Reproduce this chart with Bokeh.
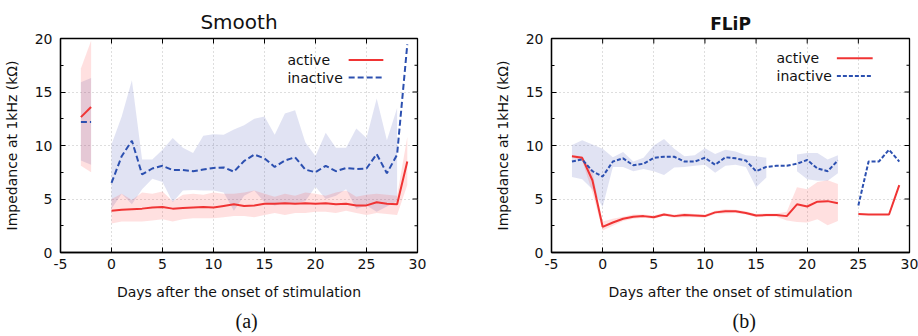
import numpy as np
from bokeh.plotting import figure
from bokeh.layouts import row
from bokeh.models import FixedTicker, Range1d, Title
from bokeh.embed import file_html
from bokeh.resources import INLINE
from bokeh.core.properties import value

NA = float("nan")
DAYS = list(range(-3, 30))

# ---- Smooth (a) ----
SMOOTH_ACTIVE = [12.65, 13.6, NA, 3.9, 4.0, 4.05, 4.1, 4.2, 4.25, 4.1, 4.15, 4.2, 4.25, 4.2, 4.35,
                 4.5, 4.35, 4.4, 4.55, 4.55, 4.6, 4.55, 4.6, 4.55, 4.6, 4.5, 4.55, 4.4, 4.4, 4.7,
                 4.55, 4.5, 8.5]
SMOOTH_ACTIVE_LO = [8.1, 7.5, NA, 2.7, 2.9, 2.9, 2.9, 3.0, 3.1, 2.9, 3.1, 3.2, 3.2, 3.2, 3.3, 3.4,
                    3.4, 3.3, 3.5, 3.7, 3.5, 3.7, 3.7, 3.8, 3.8, 3.7, 3.9, 3.7, 3.5, 3.7, 3.6, 3.5, 6.3]
SMOOTH_ACTIVE_HI = [17.2, 19.8, NA, 5.0, 5.5, 4.9, 5.6, 5.5, 5.7, 4.8, 5.4, 5.5, 5.4, 5.6, 5.5, 5.5,
                    5.6, 5.8, 5.5, 5.2, 5.5, 5.3, 5.6, 5.5, 5.3, 5.6, 5.8, 5.2, 5.4, 5.5, 5.4, 5.3, 10.8]
SMOOTH_INACTIVE = [12.2, 12.2, NA, 6.5, 9.0, 10.45, 7.3, 7.85, 8.1, 7.7, 7.7, 7.6, 7.75, 7.9, 7.95,
                   7.55, 8.55, 9.15, 8.8, 8.0, 8.6, 8.9, 7.75, 7.5, 8.1, 7.6, 7.9, 7.8, 7.85, 9.2,
                   7.4, 9.15, 19.45]
SMOOTH_INACTIVE_LO = [8.6, 8.2, NA, 4.1, 5.5, 4.5, 5.9, 6.9, 6.6, 4.7, 5.8, 5.85, 5.8, 5.8, 5.6, 3.9,
                      5.3, 5.8, 4.7, 4.4, 4.6, 4.6, 4.8, 6.15, 5.0, 5.3, 5.9, 4.1, 4.4, 3.8, 4.3, 4.8, NA]
SMOOTH_INACTIVE_HI = [15.9, 16.3, NA, 10.1, 12.7, 16.1, 8.7, 8.7, 9.6, 10.7, 9.8, 9.3, 10.9, 11.05,
                      11.0, 11.5, 11.9, 12.5, 12.7, 11.0, 13.0, 13.3, 10.3, 9.0, 11.2, 9.8, 9.8, 11.6,
                      10.7, 14.4, 10.5, 13.5, NA]

# ---- FLiP (b) ----
FLIP_ACTIVE = [9.0, 8.85, 6.75, 2.4, 2.8, 3.15, 3.35, 3.4, 3.3, 3.55, 3.4, 3.5, 3.45, 3.4, 3.75, 3.85,
               3.85, 3.7, 3.45, 3.5, 3.5, 3.4, 4.5, 4.3, 4.75, 4.8, 4.6, NA, 3.6, 3.55, 3.55, 3.55, 6.3]
FLIP_ACTIVE_LO = [8.9, 8.6, 5.6, 2.05, 2.5, 2.95, 3.15, 3.25, 3.15, 3.4, 3.25, 3.3, 3.3, 3.25, 3.6,
                  3.65, 3.7, 3.55, 3.3, 3.35, 3.35, 3.0, 2.85, 2.8, 3.1, 2.55, 2.95, NA, NA, NA, NA, NA, NA]
FLIP_ACTIVE_HI = [9.1, 9.0, 7.5, 2.9, 3.15, 3.35, 3.55, 3.55, 3.45, 3.7, 3.55, 3.7, 3.6, 3.55, 3.9,
                  4.05, 4.0, 3.85, 3.6, 3.65, 3.65, 3.8, 6.1, 5.9, 6.6, 6.75, 6.4, NA, NA, NA, NA, NA, NA]
FLIP_INACTIVE = [8.5, 8.7, 7.6, 7.1, 8.5, 8.8, 8.15, 8.3, 8.85, 8.95, 8.95, 8.5, 8.5, 8.85, 8.2, 8.9,
                 8.8, 8.6, 7.6, 8.0, 8.1, 8.1, 8.3, 8.65, 7.85, 7.6, 8.6, NA, 4.4, 8.5, 8.5, 9.6, 8.5]
FLIP_INACTIVE_LO = [7.05, 6.85, 5.9, 4.25, 8.0, 8.0, 7.6, 7.8, 7.6, 7.25, 7.95, 8.0, 8.1, 8.2, 7.45,
                    8.1, 8.2, 8.0, 6.1, 7.0, NA, NA, 7.6, 6.85, 6.7, 6.7, 7.4, NA, NA, NA, NA, NA, NA]
FLIP_INACTIVE_HI = [10.05, 10.5, 10.1, 9.7, 8.9, 9.4, 8.5, 8.85, 10.0, 10.6, 9.7, 9.0, 9.1, 9.75, 9.2,
                    9.6, 9.45, 9.1, 9.0, 8.85, NA, NA, 9.15, 9.3, 9.3, 8.7, 9.1, NA, NA, NA, NA, NA, NA]

SERIES_NAMES = ["active", "inactive"]
X_TICKS = [-5, 0, 5, 10, 15, 20, 25, 30]
X_TICK_LABELS = ["-5", "0", "5", "10", "15", "20", "25", "30"]
Y_TICKS = [0, 5, 10, 15, 20]
Y_TICK_LABELS = ["0", "5", "10", "15", "20"]
Y_MINOR_TICKS = [2.5, 7.5, 12.5, 17.5]
X_LABEL = "Days after the onset of stimulation"
Y_LABEL = "Impedance at 1kHz (kΩ)"

RED = "#f03434"
BLUE = "#2c50b0"
SANS = "DejaVu Sans"
X_MIN, X_MAX, Y_MIN, Y_MAX = -5, 30, 0, 20


def runs(x, *cols):
    x = np.asarray(x, float)
    arrs = [np.asarray(c, float) for c in cols]
    ok = np.ones(len(x), bool)
    for a in arrs:
        ok &= np.isfinite(a)
    out, i, n = [], 0, len(x)
    while i < n:
        if ok[i]:
            j = i
            while j < n and ok[j]:
                j += 1
            out.append((x[i:j], [a[i:j] for a in arrs]))
            i = j
        else:
            i += 1
    return out


def make_panel(title, title_size, title_style, act, act_lo, act_hi, ina, ina_lo, ina_hi,
               dash, caption, caption_offset, left_border, right_border, leg_x, leg_x0, leg_x1, leg_y):
    p = figure(width=459, height=336, x_range=Range1d(X_MIN, X_MAX), y_range=Range1d(Y_MIN, Y_MAX),
               output_backend="svg", toolbar_location=None, title=title,
               min_border_left=left_border, min_border_right=right_border,
               min_border_top=38, min_border_bottom=80)
    p.title.align = "center"
    p.title.text_font = SANS
    p.title.text_font_size = title_size
    p.title.text_font_style = title_style
    p.title.text_color = "#111111"
    p.title.standoff = 9
    p.background_fill_color = "white"
    p.border_fill_color = "white"
    p.outline_line_color = "black"
    p.outline_line_width = 1.3

    xt = FixedTicker(ticks=X_TICKS, minor_ticks=[])
    yt = FixedTicker(ticks=Y_TICKS, minor_ticks=Y_MINOR_TICKS)
    p.xaxis.ticker = xt
    p.yaxis.ticker = yt
    p.xaxis.major_label_overrides = dict(zip(X_TICKS, X_TICK_LABELS))
    p.yaxis.major_label_overrides = dict(zip(Y_TICKS, Y_TICK_LABELS))
    p.xaxis.axis_label = X_LABEL
    p.yaxis.axis_label = Y_LABEL

    for ax in (p.xaxis[0], p.yaxis[0]):
        ax.axis_line_color = "black"
        ax.axis_line_width = 1.3
        ax.major_tick_in = 5
        ax.major_tick_out = 0
        ax.minor_tick_in = 3
        ax.minor_tick_out = 0
        ax.major_tick_line_color = "black"
        ax.minor_tick_line_color = "black"
        ax.major_label_text_font = SANS
        ax.major_label_text_font_size = "14px"
        ax.major_label_text_color = "#111111"
        ax.axis_label_text_font = SANS
        ax.axis_label_text_font_size = "14px"
        ax.axis_label_text_font_style = "normal"
        ax.axis_label_text_color = "#111111"
    p.xaxis.major_label_standoff = 6
    p.xaxis.axis_label_standoff = 12
    p.yaxis.major_label_standoff = 8
    p.yaxis.axis_label_standoff = 12

    for g in (p.xgrid[0], p.ygrid[0]):
        g.grid_line_color = "#bdbdbd"
        g.grid_line_dash = "1 3"
        g.grid_line_width = 1
    p.xgrid.ticker = xt
    p.ygrid.ticker = yt

    # mirrored inward ticks on the top and right edges (half of each dash is clipped away)
    p.scatter(x=X_TICKS, y=[Y_MAX] * len(X_TICKS), marker="dash", size=10, angle=np.pi / 2,
              line_color="black", line_width=1)
    p.scatter(x=[X_MAX] * len(Y_TICKS), y=Y_TICKS, marker="dash", size=10,
              line_color="black", line_width=1)
    p.scatter(x=[X_MAX] * len(Y_MINOR_TICKS), y=Y_MINOR_TICKS, marker="dash", size=6,
              line_color="black", line_width=1)

    for xs, (lo, hi) in runs(DAYS, ina_lo, ina_hi):
        p.varea(x=xs, y1=lo, y2=hi, fill_color="#3346b0", fill_alpha=0.15)
    for xs, (lo, hi) in runs(DAYS, act_lo, act_hi):
        p.varea(x=xs, y1=lo, y2=hi, fill_color="#ff3030", fill_alpha=0.15)
    for xs, (ys,) in runs(DAYS, act):
        p.line(xs, ys, line_color=RED, line_width=2)
    for xs, (ys,) in runs(DAYS, ina):
        p.line(xs, ys, line_color=BLUE, line_width=2, line_dash=dash)

    # legend (gnuplot style: label then sample)
    p.text(x=[leg_x, leg_x], y=leg_y, text=SERIES_NAMES, text_baseline="middle",
           text_align="left", text_font=value(SANS), text_font_size=value("14px"),
           text_color="#111111")
    p.line([leg_x0, leg_x1], [leg_y[0], leg_y[0]], line_color=RED, line_width=2)
    p.line([leg_x0, leg_x1], [leg_y[1], leg_y[1]], line_color=BLUE, line_width=2, line_dash=dash)

    cap = Title(text=caption, align="left", text_font="Liberation Serif", text_font_size="20px",
                text_font_style="normal", text_color="#111111", offset=caption_offset)
    p.add_layout(cap, "below")
    return p


p1 = make_panel("Smooth", "20px", "normal", SMOOTH_ACTIVE, SMOOTH_ACTIVE_LO, SMOOTH_ACTIVE_HI,
                SMOOTH_INACTIVE, SMOOTH_INACTIVE_LO, SMOOTH_INACTIVE_HI, "6 3", "(a)", 175,
                60, 42, 17.25, 23.25, 26.65, [18.0, 16.35])
p2 = make_panel("FLiP", "17px", "bold", FLIP_ACTIVE, FLIP_ACTIVE_LO, FLIP_ACTIVE_HI,
                FLIP_INACTIVE, FLIP_INACTIVE_LO, FLIP_INACTIVE_HI, "4 2", "(b)", 181,
                92, 9, 17.0, 22.9, 26.4, [18.15, 16.5])

layout = row(p1, p2)
open("out.html", "w").write(file_html(layout, INLINE))
